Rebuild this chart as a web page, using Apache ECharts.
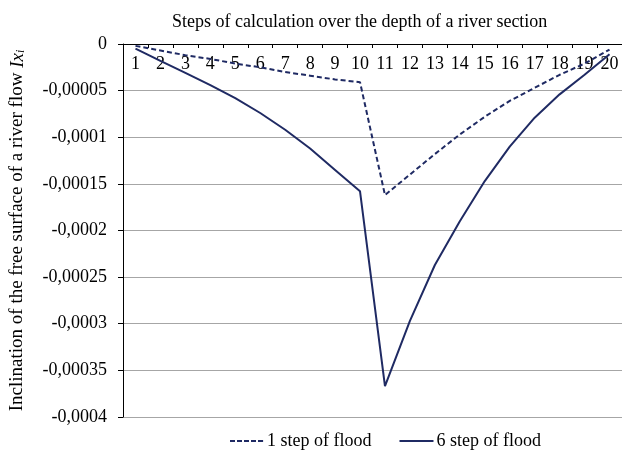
<!DOCTYPE html>
<html>
<head>
<meta charset="utf-8">
<script src="https://cdn.jsdelivr.net/npm/echarts@6/dist/echarts.min.js"></script>
<style>
  html, body { margin: 0; padding: 0; background: #fff; }
  #chart { width: 622px; height: 453px; }
</style>
</head>
<body>
<div id="chart"></div>
<script>
// Calculation steps across the river section
const steps = ['1','2','3','4','5','6','7','8','9','10','11','12','13','14','15','16','17','18','19','20'];

// Free-surface inclination, 1st flood step
const floodStep1 = [-0.000002, -0.000007, -0.000012, -0.000016, -0.000021, -0.000025, -0.000030, -0.000034, -0.000038, -0.000041,
                    -0.000162, -0.000140, -0.000118, -0.000097, -0.000078, -0.000061, -0.000047, -0.000033, -0.000021, -0.000006];

// Free-surface inclination, 6th flood step
const floodStep6 = [-0.000005, -0.000018, -0.000031, -0.000044, -0.000058, -0.000074, -0.000092, -0.000112, -0.000135, -0.000158,
                    -0.000367, -0.000297, -0.000237, -0.000190, -0.000147, -0.000110, -0.000079, -0.000054, -0.000033, -0.000011];

const yTicks = { min: -0.0004, max: 0, step: 0.00005 };

const FONT = '"Liberation Serif", "Times New Roman", serif';
const NAVY = '#1f2a63';

// Legend keys: a dashed and a solid stroke, 34 x 2
const DASHED_KEY = 'path://M0,0h5v2h-5z M7,0h5v2h-5z M14,0h5v2h-5z M21,0h5v2h-5z M28,0h5v2h-5z M33.9,0h0.1v2h-0.1z';
const SOLID_KEY = 'path://M0,0h34v2h-34z';

function commaNumber(v) {
  if (Math.abs(v) < 1e-12) return '0';
  let s = v.toFixed(6).replace(/0+$/, '').replace(/\.$/, '');
  return s.replace('.', ',');
}

const chart = echarts.init(document.getElementById('chart'), null, { renderer: 'canvas' });
chart.setOption({
  animation: false,
  backgroundColor: '#fff',
  textStyle: { fontFamily: FONT, color: '#000' },
  title: {
    text: 'Steps of calculation over the depth of a river section',
    left: 167,
    top: 8,
    textStyle: { fontFamily: FONT, fontSize: 18, fontWeight: 'normal', color: '#000' }
  },
  legend: {
    left: 225,
    top: 427,
    itemWidth: 34,
    itemHeight: 2,
    itemGap: 28,
    textStyle: { fontFamily: FONT, fontSize: 18, color: '#000', padding: [0, 0, 0, -2] },
    data: [
      { name: '1 step of flood', icon: DASHED_KEY, itemStyle: { color: NAVY } },
      { name: '6 step of flood', icon: SOLID_KEY, itemStyle: { color: NAVY } }
    ]
  },
  grid: { left: 123, top: 44, width: 504, height: 373, containLabel: false },
  xAxis: {
    type: 'category',
    data: steps,
    position: 'top',
    boundaryGap: true,
    axisLine: { show: true, lineStyle: { color: '#000', width: 1 } },
    axisTick: { show: true, inside: true, length: 4, lineStyle: { color: '#000' } },
    axisLabel: { inside: true, margin: 11, fontFamily: FONT, fontSize: 18, color: '#000' },
    splitLine: { show: false }
  },
  yAxis: {
    type: 'value',
    min: yTicks.min,
    max: yTicks.max,
    interval: yTicks.step,
    name: '{n|Inclination of the free surface of a river flow }{it|Ix}{sub|i}',
    nameLocation: 'middle',
    nameRotate: 90,
    nameGap: 96,
    nameTextStyle: {
      fontFamily: FONT,
      color: '#000',
      rich: {
        n: { fontFamily: FONT, fontSize: 19, color: '#000' },
        it: { fontFamily: FONT, fontSize: 19, fontStyle: 'italic', color: '#000' },
        sub: { fontFamily: FONT, fontSize: 12, fontStyle: 'italic', color: '#000', verticalAlign: 'bottom', padding: [7, 0, 0, 0] }
      }
    },
    axisLine: { show: true, lineStyle: { color: '#000', width: 1 } },
    axisTick: { show: true, length: 5, lineStyle: { color: '#000' } },
    axisLabel: { margin: 16, fontFamily: FONT, fontSize: 18, color: '#000', formatter: commaNumber },
    splitLine: { show: true, lineStyle: { color: '#a6a6a6', width: 1 } }
  },
  series: [
    {
      name: '1 step of flood',
      type: 'line',
      data: floodStep1,
      symbol: 'none',
      lineStyle: { color: NAVY, width: 2, type: [5, 3] },
      itemStyle: { color: NAVY }
    },
    {
      name: '6 step of flood',
      type: 'line',
      data: floodStep6,
      symbol: 'none',
      lineStyle: { color: NAVY, width: 2 },
      itemStyle: { color: NAVY }
    }
  ]
});
</script>
</body>
</html>
